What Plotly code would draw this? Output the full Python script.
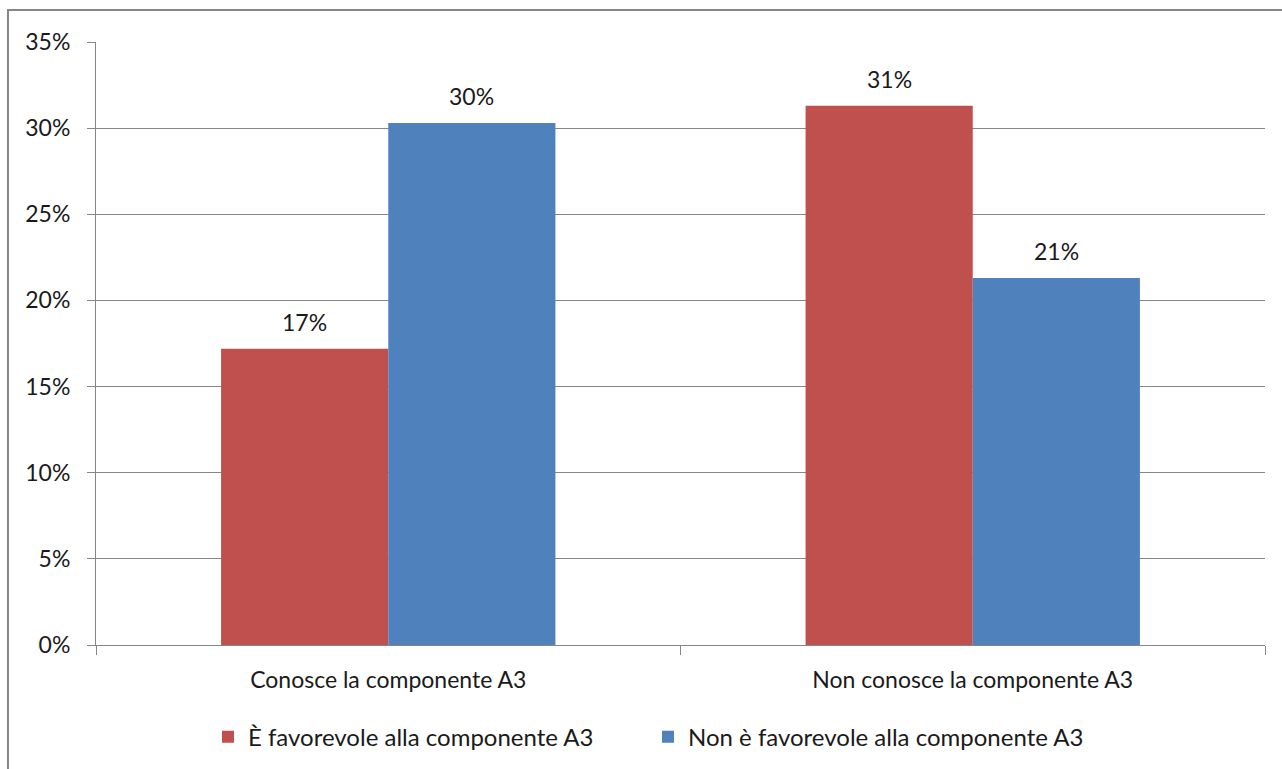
import plotly.graph_objects as go

categories = ["Conosce la componente A3", "Non conosce la componente A3"]
series_names = ["È favorevole alla componente A3", "Non è favorevole alla componente A3"]
favorevole = [0.172, 0.313]
non_favorevole = [0.303, 0.213]
labels_fav = ["17%", "31%"]
labels_non = ["30%", "21%"]
colors = ["#C0504D", "#4F81BD"]

font_family = "Lato, 'Open Sans', sans-serif"
txt_color = "#1a1a1a"
fs = 23

fig = go.Figure()
for name, vals, col in zip(series_names, [favorevole, non_favorevole], colors):
    fig.add_trace(go.Bar(
        x=categories, y=vals, name=name, marker=dict(color=col, line=dict(width=0)),
    ))

# data labels as annotations above each bar
offsets = [-0.143, 0.143]
annotations = []
for off, vals, labs in zip(offsets, [favorevole, non_favorevole], [labels_fav, labels_non]):
    for i, (v, lab) in enumerate(zip(vals, labs)):
        annotations.append(dict(x=i + off, y=v, xref="x", yref="y", text=lab,
                                showarrow=False, yanchor="middle", yshift=27,
                                font=dict(size=fs, color=txt_color, family=font_family)))

fig.update_layout(
    width=1282, height=769,
    margin=dict(l=96, r=17, t=42, b=124, autoexpand=False),
    paper_bgcolor="white", plot_bgcolor="white",
    barmode="group", bargap=0.428, bargroupgap=0,
    font=dict(family=font_family, size=fs, color=txt_color),
    showlegend=True,
    legend=dict(orientation="h", x=0.0958, xanchor="left", y=-0.153, yanchor="middle",
                font=dict(size=24, color=txt_color), itemwidth=30,
                entrywidth=395, traceorder="normal"),
    xaxis=dict(showline=True, linecolor="#868686", linewidth=1,
               ticks="outside", ticklen=9, tickcolor="#868686", automargin=False,
               tickson="boundaries", tickfont=dict(size=fs), ticklabelstandoff=14),
    yaxis=dict(range=[0, 0.35], dtick=0.05, tickformat=".0%",
               showgrid=True, gridcolor="#868686", gridwidth=1,
               showline=True, linecolor="#868686", linewidth=1, automargin=False,
               ticks="outside", ticklen=8, tickcolor="#868686",
               tickfont=dict(size=fs), zeroline=False, ticklabelstandoff=12),
    annotations=annotations,
    shapes=[dict(type="rect", xref="paper", yref="paper",
                 x0=-0.0753, x1=1.1, y0=-0.4, y1=1.053,
                 line=dict(color="#868686", width=2), fillcolor="rgba(0,0,0,0)")],
)

fig.write_html("out.html")
